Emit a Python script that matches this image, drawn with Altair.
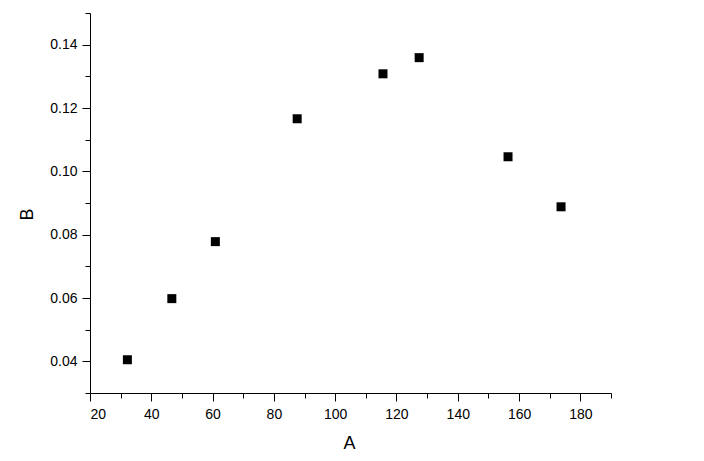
import altair as alt
import pandas as pd

# data
a_vals = [32.2, 46.7, 60.9, 87.6, 115.6, 127.4, 156.4, 173.7]
b_vals = [0.0405, 0.0598, 0.0778, 0.1166, 0.1308, 0.1359, 0.1046, 0.0888]

x_major = [20, 40, 60, 80, 100, 120, 140, 160, 180]
x_minor = [30, 50, 70, 90, 110, 130, 150, 170, 190]
y_major = [0.04, 0.06, 0.08, 0.10, 0.12, 0.14]
y_minor = [0.03, 0.05, 0.07, 0.09, 0.11, 0.13, 0.15]

df = pd.DataFrame({"A": a_vals, "B": b_vals})

FONT = "Liberation Sans"
xscale = alt.Scale(domain=[20, 190], nice=False, zero=False)
yscale = alt.Scale(domain=[0.03, 0.15], nice=False, zero=False)

points = alt.Chart(df).mark_square(size=81, color="black", opacity=1, filled=True).encode(
    x=alt.X("A:Q", scale=xscale,
            axis=alt.Axis(values=x_major, orient="bottom", title="A", tickSize=8,
                          labelPadding=6, format="d",
                          titleBaseline="alphabetic", titleY=55, titleX=259)),
    y=alt.Y("B:Q", scale=yscale,
            axis=alt.Axis(values=y_major, orient="left", title="B", tickSize=8,
                          labelPadding=5, format=".2f",
                          titleBaseline="alphabetic", titleAngle=270,
                          titleX=-58, titleY=201)),
)

minor = alt.Chart(df).mark_square(opacity=0).encode(
    x=alt.X("A:Q", scale=xscale,
            axis=alt.Axis(values=x_minor, orient="bottom", title=None, labels=False,
                          tickSize=5, domain=False)),
    y=alt.Y("B:Q", scale=yscale,
            axis=alt.Axis(values=y_minor, orient="left", title=None, labels=False,
                          tickSize=5, domain=False)),
)

chart = alt.layer(points, minor).resolve_axis(x="independent", y="independent").properties(
    width=521, height=380,
    autosize=alt.AutoSizeParams(type="none"),
    padding={"left": 82, "top": 5, "right": 80, "bottom": 60},
).configure_view(stroke=None).configure_axis(
    grid=False,
    domainColor="black", tickColor="black", labelColor="black", titleColor="black",
    domainWidth=1, tickWidth=1,
    labelFont=FONT, titleFont=FONT, labelFontSize=14, titleFontSize=18,
    titleFontWeight="normal",
)

chart.save("out.html", embed_options={"renderer": "svg", "actions": False})
